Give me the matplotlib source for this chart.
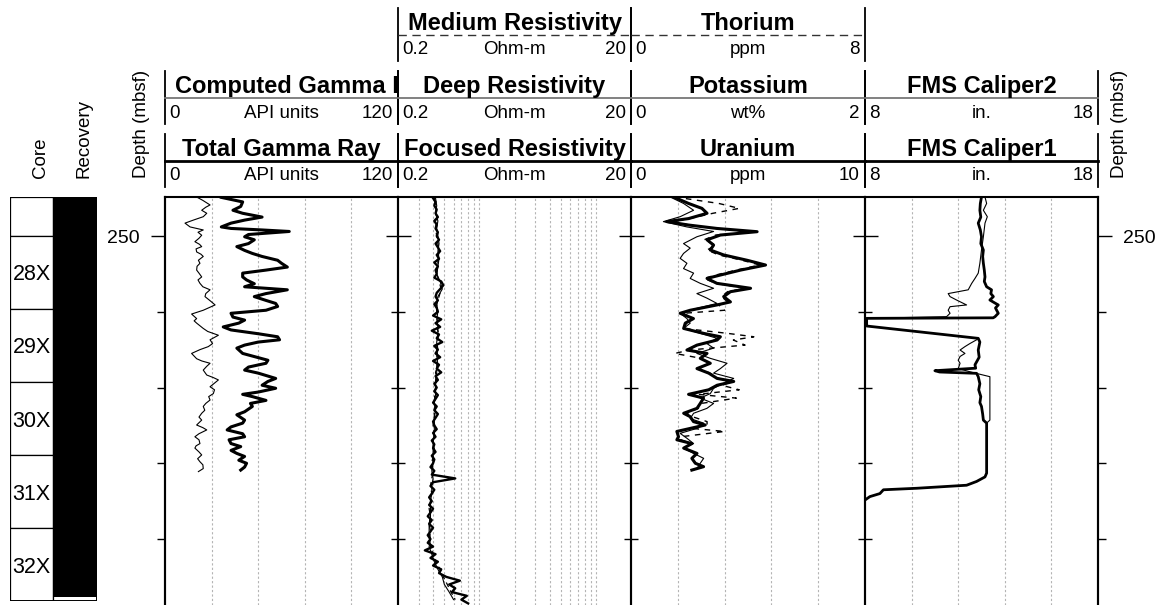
import numpy as np
import matplotlib
matplotlib.use("Agg")
import matplotlib.pyplot as plt
from matplotlib.patches import Rectangle
from matplotlib.ticker import MultipleLocator, FixedLocator, NullFormatter

plt.rcParams['font.family'] = ['Liberation Sans', 'DejaVu Sans']

# ---------------------------------------------------------------- data
depth_top, depth_bottom = 244.85, 298.71
depth_labels = [250]

core_names = ["", "28X", "29X", "30X", "31X", "32X"]
core_tops = [244.85, 250.0, 259.6, 269.3, 278.95, 288.6]
core_bottoms = [250.0, 259.6, 269.3, 278.95, 288.6, 298.2]
recovered_tops = [244.85, 250.0, 259.6, 269.3, 279.08, 288.6]
recovered_bottoms = [250.0, 259.6, 269.3, 278.95, 288.6, 297.7]

# Total gamma ray (API)
tgr_depth = [244.9, 245.5, 246.1, 246.6, 247.0, 247.5, 247.9, 248.3, 248.8, 249.0,
             249.2, 249.4, 249.8, 250.1, 250.5, 251.0, 251.4, 251.9, 252.3, 252.7,
             253.2, 253.6, 254.1, 254.5, 254.9, 255.4, 255.8, 256.3, 256.7, 257.1,
             257.6, 258.0, 258.5, 258.9, 259.3, 259.8, 260.2, 260.7, 261.1, 261.5,
             262.0, 262.4, 262.9, 263.3, 263.7, 264.0, 264.4, 264.8, 265.5, 266.4,
             266.8, 267.3, 267.7, 268.1, 268.8, 269.2, 269.7, 270.1, 270.6, 270.9,
             271.2, 271.7, 272.1, 272.5, 273.2, 273.6, 274.3, 274.7, 275.2, 275.6,
             276.1, 276.5, 276.9, 277.4, 277.8, 278.3, 278.7, 279.1, 279.6, 280.0,
             280.5, 280.9]
tgr = [29, 40, 39, 35, 40, 50, 41, 34, 29, 34,
       50, 64, 43, 41, 46, 43, 37, 41, 45, 50,
       58, 60, 63, 52, 40, 40, 42, 46, 41, 63,
       52, 46, 52, 57, 58, 52, 34, 35, 41, 38,
       30, 34, 48, 58, 59, 48, 41, 37, 40, 53,
       52, 43, 41, 48, 57, 53, 50, 57, 48, 40,
       45, 52, 44, 45, 41, 37, 41, 40, 34, 32,
       40, 41, 33, 34, 39, 34, 37, 41, 38, 42,
       41, 39]

# Computed gamma ray (API)
cgr_depth = [244.85, 245.3, 245.9, 246.2, 246.6, 247.0, 247.45, 247.9, 248.3, 248.8,
             249.2, 249.5, 249.9, 250.3, 250.75, 251.1, 251.4, 251.7, 252.1, 252.4,
             252.7, 253.2, 253.6, 254.0, 254.5, 254.9, 255.4, 255.8, 256.25, 256.7,
             257.1, 257.6, 258.0, 258.6, 259.1, 259.8, 260.3, 260.9, 261.2, 261.5,
             262.2, 262.6, 263.1, 263.7, 264.2, 264.6, 265.0, 265.5, 266.2, 266.5,
             266.8, 267.2, 267.7, 268.35, 268.7, 269.0, 269.9, 270.3, 270.8, 271.2,
             271.65, 272.1, 272.5, 273.0, 273.4, 273.9, 274.3, 274.95, 275.3, 275.6,
             276.1, 276.5, 276.9, 277.4, 277.7, 278.0, 278.5, 278.9, 279.4, 279.8,
             280.2, 280.7, 281.1]
cgr = [16.3, 19.5, 23.2, 21.0, 18.9, 21.5, 19.7, 14.6, 10.3, 12.9,
       19.7, 17.0, 18.9, 17.5, 15.4, 17.8, 18.9, 16.0, 16.3, 18.5,
       19.7, 17.2, 18.0, 16.5, 16.3, 17.5, 18.9, 17.0, 18.0, 19.5,
       23.2, 21.0, 20.6, 23.5, 25.8, 19.7, 13.7, 16.3, 15.0, 16.3,
       19.7, 22.0, 27.5, 23.2, 24.5, 22.3, 18.0, 13.7, 16.3, 19.0,
       23.2, 21.5, 19.7, 21.5, 25.0, 27.5, 23.2, 25.5, 24.9, 22.5,
       23.2, 21.0, 19.7, 20.5, 18.9, 17.5, 18.9, 16.3, 19.5, 21.5,
       17.5, 15.4, 17.5, 18.0, 16.0, 15.4, 17.5, 18.9, 16.8, 18.0,
       19.5, 19.7, 17.2]

# Resistivities (ohm-m)
foc_depth = np.arange(245.0, 298.6, 0.5)
focused = [0.40, 0.42, 0.41, 0.43, 0.42, 0.44, 0.41, 0.43, 0.42, 0.44,
           0.43, 0.45, 0.42, 0.44, 0.46, 0.43, 0.45, 0.41, 0.44, 0.42,
           0.43, 0.41, 0.47, 0.49, 0.46, 0.43, 0.42, 0.44, 0.41, 0.43,
           0.44, 0.40, 0.47, 0.42, 0.46, 0.39, 0.45, 0.43, 0.48, 0.41,
           0.44, 0.42, 0.46, 0.40, 0.45, 0.43, 0.47, 0.42, 0.44, 0.41,
           0.43, 0.41, 0.44, 0.42, 0.40, 0.43, 0.41, 0.44, 0.42, 0.40,
           0.41, 0.43, 0.40, 0.42, 0.39, 0.41, 0.40, 0.42, 0.39, 0.41,
           0.40, 0.38, 0.41, 0.39, 0.62, 0.40, 0.38, 0.41, 0.39, 0.37,
           0.39, 0.37, 0.40, 0.38, 0.36, 0.39, 0.37, 0.40, 0.38, 0.36,
           0.38, 0.36, 0.40, 0.34, 0.42, 0.38, 0.44, 0.40, 0.47, 0.45,
           0.52, 0.68, 0.55, 0.62, 0.58, 0.78, 0.70, 0.80]
res_depth = np.arange(245.0, 298.5, 1.0)
deep = [0.42, 0.43, 0.42, 0.44, 0.43, 0.44, 0.45, 0.44, 0.45, 0.44,
        0.43, 0.46, 0.48, 0.44, 0.43, 0.44, 0.43, 0.44, 0.44, 0.43,
        0.43, 0.44, 0.43, 0.43, 0.42, 0.42, 0.42, 0.41, 0.42, 0.41,
        0.41, 0.41, 0.40, 0.40, 0.40, 0.40, 0.39, 0.40, 0.39, 0.39,
        0.38, 0.38, 0.38, 0.37, 0.37, 0.38, 0.37, 0.39, 0.41, 0.44,
        0.48, 0.50, 0.55, 0.60]
medium = [0.41, 0.42, 0.43, 0.43, 0.42, 0.43, 0.44, 0.45, 0.44, 0.44,
          0.43, 0.45, 0.47, 0.45, 0.43, 0.43, 0.44, 0.43, 0.45, 0.43,
          0.44, 0.43, 0.44, 0.42, 0.43, 0.42, 0.41, 0.42, 0.41, 0.41,
          0.40, 0.41, 0.40, 0.41, 0.40, 0.39, 0.40, 0.39, 0.38, 0.39,
          0.38, 0.37, 0.38, 0.37, 0.38, 0.37, 0.38, 0.40, 0.42, 0.46,
          0.49, 0.53, 0.57, 0.62]

# Uranium (ppm) and thorium (ppm) share one depth sampling
u_depth = [244.85, 245.7, 246.35, 247.0, 247.7, 248.1, 248.55, 249.0, 249.43, 249.87,
           250.5, 251.2, 251.85, 252.5, 253.2, 253.83, 254.5, 255.15, 255.6, 256.25,
           256.9, 257.35, 258.0, 258.7, 259.1, 259.8, 260.2, 260.9, 261.5, 262.2,
           262.85, 263.3, 263.73, 264.4, 265.05, 265.5, 266.15, 266.8, 267.5, 268.1,
           268.8, 269.2, 269.7, 270.3, 270.9, 271.4, 272.1, 272.75, 273.4, 273.85,
           274.5, 274.95, 275.4, 275.8, 276.5, 276.9, 277.4, 278.0, 278.7, 279.35,
           280.0, 280.45, 280.9]
uranium = [1.82, 2.46, 3.03, 3.25, 2.46, 1.53, 2.46, 3.67, 5.39, 3.82,
           3.25, 3.53, 3.39, 3.96, 4.96, 5.75, 4.68, 3.82, 3.25, 3.67,
           5.11, 4.25, 3.96, 4.25, 3.67, 2.53, 2.10, 2.67, 2.32, 2.25,
           3.10, 3.82, 3.68, 2.82, 2.39, 3.25, 2.96, 3.39, 2.82, 3.32,
           3.68, 4.39, 3.68, 3.32, 2.46, 3.10, 2.96, 2.82, 2.25, 2.53,
           2.67, 3.17, 2.53, 1.96, 2.03, 1.96, 2.60, 2.25, 2.82, 2.60,
           2.75, 3.10, 2.60]
thorium = [1.5, 3.0, 3.7, 2.8, 2.0, 1.4, 2.0, 2.9, 4.1, 2.9,
           2.5, 2.9, 2.6, 3.0, 3.8, 4.4, 3.6, 2.9, 2.5, 2.9,
           3.9, 3.3, 3.1, 3.3, 3.0, 3.2, 1.8, 2.1, 1.9, 1.8,
           3.3, 4.2, 3.5, 3.9, 2.0, 1.5, 2.4, 2.7, 2.3, 2.7,
           3.0, 3.5, 3.1, 3.7, 2.3, 3.6, 2.4, 2.3, 1.9, 2.1,
           2.6, 2.6, 2.1, 3.2, 1.7, 1.7, 2.1, 1.8, 2.2, 2.1,
           2.2, 2.5, 2.1]

# Potassium (wt%)
k_depth = [244.85, 245.7, 246.6, 247.45, 248.1, 248.8, 249.4, 250.1, 251.0, 251.6,
           252.3, 252.95, 253.6, 254.3, 254.9, 255.6, 256.25, 256.9, 257.6, 258.2,
           258.9, 259.55, 260.2, 260.9, 261.5, 262.2, 262.85, 263.5, 264.2, 264.8,
           265.5, 266.15, 266.8, 267.5, 268.1, 268.8, 269.45, 270.1, 270.8, 271.4,
           272.1, 272.75, 273.4, 274.1, 274.7, 275.4, 276.05, 276.7, 277.4, 278.0,
           278.7, 279.35, 280.0, 280.7]
potassium = [0.335, 0.449, 0.535, 0.420, 0.277, 0.478, 0.706, 0.563, 0.449, 0.506,
             0.449, 0.420, 0.478, 0.449, 0.535, 0.506, 0.592, 0.706, 0.563, 0.649,
             0.735, 0.563, 0.420, 0.478, 0.506, 0.449, 0.592, 0.735, 0.649, 0.706,
             0.563, 0.678, 0.821, 0.764, 0.706, 0.878, 0.792, 0.706, 0.678, 0.592,
             0.706, 0.649, 0.535, 0.506, 0.621, 0.563, 0.420, 0.478, 0.535, 0.449,
             0.535, 0.621, 0.592, 0.563]

# FMS calipers (in.)
cal1_depth = [244.85, 245.7, 246.6, 247.5, 248.3, 249.2, 250.1, 251.0, 251.85, 252.7,
              253.6, 254.5, 255.4, 256.0, 256.7, 257.1, 257.6, 258.0, 258.45, 258.8,
              259.1, 259.5, 259.8, 260.2, 260.65, 260.8, 260.87, 261.88, 263.51, 264.0,
              265.05, 266.0, 267.0, 267.45, 267.78, 267.95, 268.13, 268.57, 269.5, 270.3,
              271.2, 272.0, 272.5, 273.5, 274.3, 274.7, 281.3, 281.8, 282.4, 282.9,
              283.3, 283.5, 284.0, 284.4, 284.85]
cal1 = [13.00, 12.95, 12.93, 12.97, 12.86, 12.95, 13.00, 12.97, 13.08, 13.05,
        13.08, 13.12, 13.15, 13.12, 13.22, 13.43, 13.40, 13.51, 13.36, 13.55,
        13.72, 13.60, 13.65, 13.72, 13.58, 13.50, 8.07, 8.07, 12.86, 12.93,
        12.86, 12.90, 12.72, 12.75, 11.00, 11.20, 12.79, 12.86, 12.93, 12.88,
        12.97, 12.93, 13.00, 13.05, 13.08, 13.22, 13.22, 13.15, 12.79, 12.36,
        10.22, 8.79, 8.64, 8.21, 8.00]
cal2_depth = [244.85, 245.7, 246.6, 247.45, 248.3, 250.1, 251.85, 253.6, 254.9, 255.6,
              256.25, 256.7, 257.1, 257.6, 258.0, 258.45, 259.1, 259.33, 259.8, 260.2,
              260.65, 260.87, 261.88, 263.51, 263.7, 264.2, 264.6, 265.05, 265.5, 265.9,
              266.4, 266.8, 267.5, 268.0, 268.57, 274.3, 274.7, 281.3, 281.8, 282.4,
              282.9, 283.3, 283.5, 284.0, 284.4, 284.85]
cal2 = [13.15, 13.22, 13.08, 13.25, 13.15, 13.08, 13.00, 12.93, 12.86, 12.72,
        12.58, 12.50, 12.43, 11.57, 11.65, 11.93, 12.36, 11.65, 11.57, 11.65,
        11.50, 8.04, 8.04, 12.86, 12.79, 12.50, 12.29, 12.08, 12.29, 12.08,
        12.00, 12.08, 12.00, 12.60, 13.36, 13.36, 13.22, 13.22, 13.15, 12.79,
        12.36, 10.22, 8.79, 8.64, 8.21, 8.00]

# ---------------------------------------------------------------- layout
W, H = 1162, 605
fig = plt.figure(figsize=(W / 100, H / 100), dpi=100)
track_edges = [165, 398, 631, 865, 1098]
plot_top = 197


def pixel_axes(x0, y0, x1, y1, **kw):
    return fig.add_axes([x0 / W, 1 - y1 / H, (x1 - x0) / W, (y1 - y0) / H], **kw)


BLACK = "black"
GRID = dict(color="#b4b4b4", linestyle=(0, (2, 2)), linewidth=0.8)


def style_track(ax, xlim, grid_at, log=False):
    if log:
        ax.set_xscale("log")
    ax.set_xlim(*xlim)
    ax.set_ylim(depth_bottom, depth_top)
    ax.xaxis.set_major_locator(FixedLocator(grid_at))
    ax.xaxis.set_minor_locator(FixedLocator([]))
    ax.xaxis.set_major_formatter(NullFormatter())
    ax.xaxis.set_minor_formatter(NullFormatter())
    ax.tick_params(axis="x", which="both", length=0, labelbottom=False)
    ax.grid(axis="x", **GRID)
    ax.yaxis.set_major_locator(FixedLocator(depth_labels))
    ax.yaxis.set_minor_locator(MultipleLocator(10))
    ax.tick_params(axis="y", which="both", direction="in", left=True, right=True,
                   labelleft=False, labelright=False, width=1.0)
    ax.tick_params(axis="y", which="major", length=9)
    ax.tick_params(axis="y", which="minor", length=5)
    for side in ("left", "right", "top"):
        ax.spines[side].set_linewidth(1.5)
    ax.spines["bottom"].set_visible(False)
    ax.set_facecolor("none")


def depth_scale(ax, side):
    sec = ax.secondary_yaxis(side)
    sec.yaxis.set_major_locator(FixedLocator(depth_labels))
    sec.yaxis.set_minor_locator(MultipleLocator(10))
    sec.yaxis.set_minor_formatter(NullFormatter())
    sec.tick_params(which="major", direction="out", length=10, width=1.0,
                    labelsize=14, pad=8)
    sec.tick_params(which="minor", direction="out", length=5.5, width=1.0)
    sec.spines[side].set_linewidth(1.5)
    return sec


tracks = [pixel_axes(track_edges[i], plot_top, track_edges[i + 1], H)
          for i in range(4)]

# Track 1: gamma ray
ax1 = tracks[0]
style_track(ax1, (0, 120), [24, 48, 72, 96])
ax1.plot(cgr, cgr_depth, color=BLACK, lw=0.8)
ax1.plot(tgr, tgr_depth, color=BLACK, lw=2.2, solid_joinstyle="round")
ax1.tick_params(axis="y", which="both", left=False)
depth_scale(ax1, "left")

# Track 2: resistivity
ax2 = tracks[1]
res_grid = [0.3, 0.4, 0.5, 0.6, 0.7, 0.8, 0.9, 1, 2, 3, 4, 5, 6, 7, 8, 9, 10]
style_track(ax2, (0.2, 20), res_grid, log=True)
ax2.plot(medium, res_depth, color=BLACK, lw=0.9, linestyle=(0, (4, 3)))
ax2.plot(deep, res_depth, color=BLACK, lw=0.8)
ax2.plot(focused, foc_depth, color=BLACK, lw=1.7)

# Track 3: spectral gamma (three scales on one track)
ax3 = tracks[2]
style_track(ax3, (0, 10), [2, 4, 6, 8])
ax3t = pixel_axes(track_edges[2], plot_top, track_edges[3], H)
ax3t.set_xlim(0, 8)
ax3t.set_ylim(depth_bottom, depth_top)
ax3t.axis("off")
ax3t.plot(thorium, u_depth, color=BLACK, lw=1.0, linestyle=(0, (4, 4)))
ax3k = pixel_axes(track_edges[2], plot_top, track_edges[3], H)
ax3k.set_xlim(0, 2)
ax3k.set_ylim(depth_bottom, depth_top)
ax3k.axis("off")
ax3k.plot(potassium, k_depth, color=BLACK, lw=0.8)
ax3u = pixel_axes(track_edges[2], plot_top, track_edges[3], H)
ax3u.set_xlim(0, 10)
ax3u.set_ylim(depth_bottom, depth_top)
ax3u.axis("off")
ax3u.plot(uranium, u_depth, color=BLACK, lw=2.2, solid_joinstyle="round")

# Track 4: calipers
ax4 = tracks[3]
style_track(ax4, (8, 18), [10, 12, 14, 16])
ax4.plot(cal2, cal2_depth, color=BLACK, lw=0.8)
ax4.plot(cal1, cal1_depth, color=BLACK, lw=2.0)
ax4.tick_params(axis="y", which="both", right=False)
depth_scale(ax4, "right")

# Core / recovery column
axc = pixel_axes(10, plot_top, 97, 601)
axc.set_xlim(0, 2)
axc.set_ylim(core_bottoms[-1], depth_top)
axc.axis("off")
for name, t, b, rt, rb in zip(core_names, core_tops, core_bottoms,
                              recovered_tops, recovered_bottoms):
    axc.add_patch(Rectangle((0, t), 1, b - t, facecolor="white",
                            edgecolor=BLACK, lw=0.9))
    axc.add_patch(Rectangle((1, t), 1, b - t, facecolor="white",
                            edgecolor=BLACK, lw=0.9))
    axc.add_patch(Rectangle((1, rt), 1, rb - rt, facecolor=BLACK, lw=0))
    if name:
        axc.text(0.06, (t + b) / 2, name, fontsize=15.5, ha="left",
                 va="center_baseline")
axc.add_patch(Rectangle((0, core_tops[0]), 2, core_bottoms[-1] - core_tops[0],
                        fill=False, edgecolor=BLACK, lw=1.4))

# ---------------------------------------------------------------- header
hdr = fig.add_axes([0, 0, 1, 1])
hdr.set_xlim(0, W)
hdr.set_ylim(H, 0)
hdr.axis("off")

headers = [
    (1, 0, "Medium Resistivity", "0.2", "Ohm-m", "20", "dashed"),
    (2, 0, "Thorium", "0", "ppm", "8", "dashed"),
    (0, 1, "Computed Gamma Ray", "0", "API units", "120", "thin"),
    (1, 1, "Deep Resistivity", "0.2", "Ohm-m", "20", "thin"),
    (2, 1, "Potassium", "0", "wt%", "2", "thin"),
    (3, 1, "FMS Caliper2", "8", "in.", "18", "thin"),
    (0, 2, "Total Gamma Ray", "0", "API units", "120", "thick"),
    (1, 2, "Focused Resistivity", "0.2", "Ohm-m", "20", "thick"),
    (2, 2, "Uranium", "0", "ppm", "10", "thick"),
    (3, 2, "FMS Caliper1", "8", "in.", "18", "thick"),
]
line_styles = {
    "dashed": dict(color="#333333", lw=1.0, linestyle=(0, (6, 4))),
    "thin": dict(color="#777777", lw=1.3),
    "thick": dict(color=BLACK, lw=2.0),
}

for track, row, title, lo, unit, hi, kind in headers:
    x0, x1 = track_edges[track], track_edges[track + 1]
    top = 8 + 63 * row
    hdr.plot([x0, x0], [top, top + 53], color=BLACK, lw=1.3)
    hdr.plot([x1, x1], [top, top + 53], color=BLACK, lw=1.3)
    hdr.plot([x0, x1], [top + 26.5, top + 26.5], **line_styles[kind])
    t = hdr.text((x0 + x1) / 2, top + 22, title, fontsize=17, fontweight="bold",
                 ha="center", va="baseline")
    if title == "Computed Gamma Ray":
        # too wide for its track: start at the left and cut at the border
        t.set_ha("left")
        t.set_x(x0 + 10)
        clip = Rectangle((x0, top), x1 - x0, 26, transform=hdr.transData)
        t.set_clip_path(clip)
        t.set_clip_on(True)
    hdr.text(x0 + 4, top + 46.5, lo, fontsize=13.5, ha="left", va="baseline")
    hdr.text((x0 + x1) / 2, top + 46.5, unit, fontsize=13.5, ha="center",
             va="baseline")
    hdr.text(x1 - 5, top + 46.5, hi, fontsize=13.5, ha="right", va="baseline")

side_labels = [(45, "Core"), (88, "Recovery"), (145.5, "Depth (mbsf)"),
               (1124, "Depth (mbsf)")]
for x, label in side_labels:
    hdr.text(x, 178, label, fontsize=13.5, rotation=90, rotation_mode="anchor",
             ha="left", va="baseline")

fig.savefig("out.png", dpi=100)
